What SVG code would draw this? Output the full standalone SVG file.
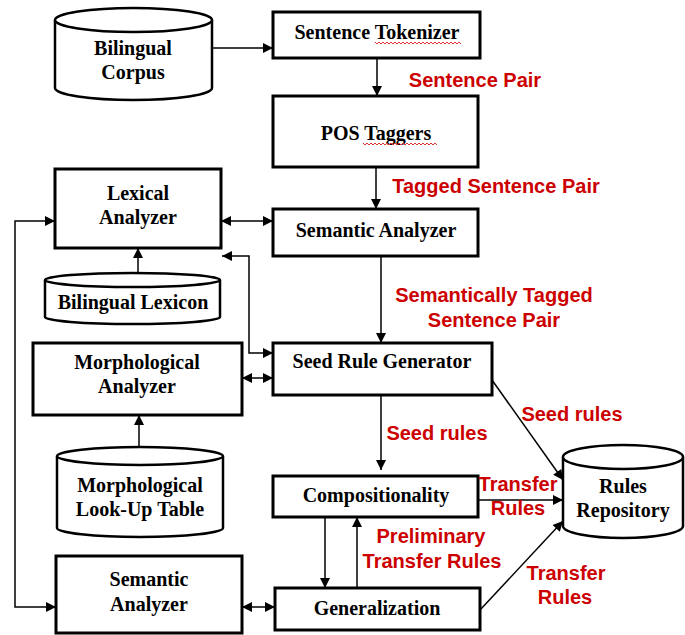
<svg xmlns="http://www.w3.org/2000/svg" width="685" height="635" viewBox="0 0 685 635">
<defs>
<style>
.box{fill:#fff;stroke:#000;stroke-width:3}
.cyl{fill:#fff;stroke:#000;stroke-width:2.5}
.t{font-family:"Liberation Serif","Times New Roman",serif;font-weight:bold;font-size:20px;fill:#000;text-anchor:middle}
.r{font-family:"Liberation Sans",Arial,sans-serif;font-weight:bold;font-size:20px;fill:#cc0000;text-anchor:middle}
.c{fill:none;stroke:#000;stroke-width:1.5}
.sq{fill:none;stroke:#e03030;stroke-width:1}
</style>
<marker id="ah" viewBox="0 0 10 10" refX="10" refY="5" markerWidth="11" markerHeight="10" markerUnits="userSpaceOnUse" orient="auto-start-reverse">
<path d="M0,0 L10,5 L0,10 z" fill="#000"/>
</marker>
</defs>
<rect width="685" height="635" fill="#fff"/>

<g id="bilingual-corpus">
<path class="cyl" d="M55,20 L55,88 A78.5,12 0 0 0 212,88 L212,20"/>
<ellipse class="cyl" cx="133.5" cy="20" rx="78.5" ry="12"/>
<text class="t" x="133" y="55">Bilingual</text>
<text class="t" x="133" y="79">Corpus</text>
</g>

<g id="sentence-tokenizer">
<rect class="box" x="273" y="12" width="207" height="46"/>
<text class="t" x="377" y="39">Sentence Tokenizer</text>
<path class="sq" d="M375,42 l2,2 l2,-2 l2,2 l2,-2 l2,2 l2,-2 l2,2 l2,-2 l2,2 l2,-2 l2,2 l2,-2 l2,2 l2,-2 l2,2 l2,-2 l2,2 l2,-2 l2,2 l2,-2 l2,2 l2,-2 l2,2 l2,-2 l2,2 l2,-2 l2,2 l2,-2 l2,2 l2,-2 l2,2 l2,-2 l2,2 l2,-2 l2,2 l2,-2 l2,2 l2,-2 l2,2 l2,-2 l2,2 l2,-2 l2,2"/>
</g>

<g id="pos-taggers">
<rect class="box" x="273" y="96" width="205" height="71"/>
<text class="t" x="376" y="140">POS Taggers</text>
<path class="sq" d="M363,143 l2,2 l2,-2 l2,2 l2,-2 l2,2 l2,-2 l2,2 l2,-2 l2,2 l2,-2 l2,2 l2,-2 l2,2 l2,-2 l2,2 l2,-2 l2,2 l2,-2 l2,2 l2,-2 l2,2 l2,-2 l2,2 l2,-2 l2,2 l2,-2 l2,2 l2,-2 l2,2 l2,-2 l2,2 l2,-2 l2,2 l2,-2 l2,2 l2,-2 l2,2"/>
</g>

<g id="semantic-analyzer-top">
<rect class="box" x="273" y="209" width="205" height="47"/>
<text class="t" x="376" y="237">Semantic Analyzer</text>
</g>

<g id="lexical-analyzer">
<rect class="box" x="55" y="169" width="166" height="79"/>
<text class="t" x="138" y="200">Lexical</text>
<text class="t" x="138" y="224">Analyzer</text>
</g>

<g id="bilingual-lexicon">
<path class="cyl" d="M45,280 L45,317 A87.5,7 0 0 0 220,317 L220,280"/>
<ellipse class="cyl" cx="132.5" cy="280" rx="87.5" ry="7"/>
<text class="t" x="133" y="309">Bilingual Lexicon</text>
</g>

<g id="morphological-analyzer">
<rect class="box" x="33" y="343" width="209" height="72"/>
<text class="t" x="137" y="369">Morphological</text>
<text class="t" x="137" y="393">Analyzer</text>
</g>

<g id="seed-rule-generator">
<rect class="box" x="273" y="343" width="219" height="52"/>
<text class="t" x="382" y="368">Seed Rule Generator</text>
</g>

<g id="morphological-lookup">
<path class="cyl" d="M57,456 L57,528 A83,9 0 0 0 223,528 L223,456"/>
<ellipse class="cyl" cx="140" cy="456" rx="83" ry="9"/>
<text class="t" x="140" y="492">Morphological</text>
<text class="t" x="140" y="516">Look-Up Table</text>
</g>

<g id="compositionality">
<rect class="box" x="273" y="476" width="205" height="41"/>
<text class="t" x="376" y="502">Compositionality</text>
</g>

<g id="generalization">
<rect class="box" x="275" y="588" width="205" height="42"/>
<text class="t" x="377" y="615">Generalization</text>
</g>

<g id="semantic-analyzer-bottom">
<rect class="box" x="56" y="556" width="186" height="77"/>
<text class="t" x="149" y="586">Semantic</text>
<text class="t" x="149" y="611">Analyzer</text>
</g>

<g id="rules-repository">
<path class="cyl" d="M563,457 L563,526 A60,12 0 0 0 683,526 L683,457"/>
<ellipse class="cyl" cx="623" cy="457" rx="60" ry="12"/>
<text class="t" x="623" y="493">Rules</text>
<text class="t" x="623" y="517">Repository</text>
</g>

<g id="connectors">
<path class="c" marker-end="url(#ah)" d="M212,48 H273"/>
<path class="c" marker-end="url(#ah)" d="M377,58 V96"/>
<path class="c" marker-end="url(#ah)" d="M376,167 V209"/>
<path class="c" marker-start="url(#ah)" marker-end="url(#ah)" d="M221,221 H273"/>
<path class="c" marker-end="url(#ah)" d="M138,273 V248"/>
<path class="c" marker-start="url(#ah)" marker-end="url(#ah)" d="M273,353 H249 V256 H222"/>
<path class="c" marker-end="url(#ah)" d="M381,256 V343"/>
<path class="c" marker-start="url(#ah)" marker-end="url(#ah)" d="M242,378 H273"/>
<path class="c" marker-end="url(#ah)" d="M139,447 V415"/>
<path class="c" marker-end="url(#ah)" d="M381,395 V470"/>
<path class="c" marker-end="url(#ah)" d="M325,517 V588"/>
<path class="c" marker-end="url(#ah)" d="M357,588 V517"/>
<path class="c" marker-end="url(#ah)" d="M478,500 H563"/>
<path class="c" marker-end="url(#ah)" d="M492,380 L563,480"/>
<path class="c" marker-end="url(#ah)" d="M480,610 L563,521"/>
<path class="c" marker-start="url(#ah)" marker-end="url(#ah)" d="M55,221 H15 V607 H56"/>
<path class="c" marker-start="url(#ah)" marker-end="url(#ah)" d="M242,607 H275"/>
</g>

<g id="labels">
<text class="r" x="475" y="87">Sentence Pair</text>
<text class="r" x="496" y="193">Tagged Sentence Pair</text>
<text class="r" x="494" y="302">Semantically Tagged</text>
<text class="r" x="494" y="327">Sentence Pair</text>
<text class="r" x="572" y="421">Seed rules</text>
<text class="r" x="437" y="440">Seed rules</text>
<text class="r" x="518" y="491">Transfer</text>
<text class="r" x="518" y="515">Rules</text>
<text class="r" x="431" y="543">Preliminary</text>
<text class="r" x="432" y="568">Transfer Rules</text>
<text class="r" x="566" y="580">Transfer</text>
<text class="r" x="565" y="604">Rules</text>
</g>
</svg>
